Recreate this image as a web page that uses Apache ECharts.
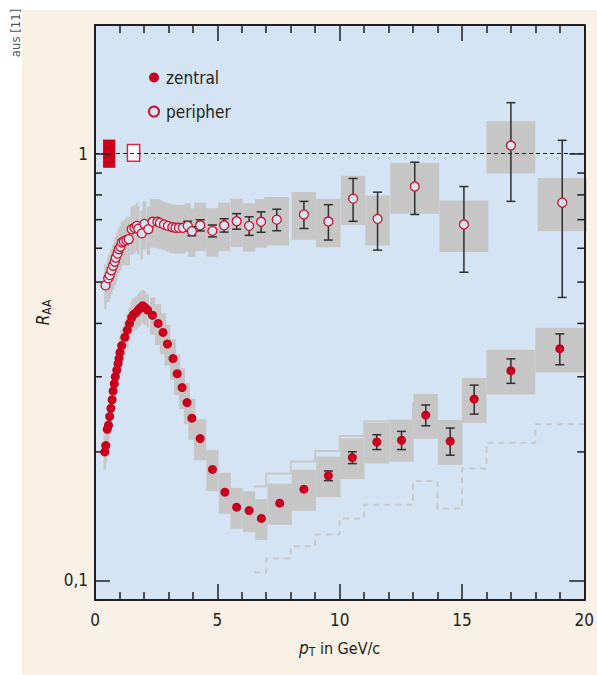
<!DOCTYPE html>
<html>
<head>
<meta charset="utf-8">
<title>RAA zentral / peripher</title>
<script src="https://cdn.jsdelivr.net/npm/echarts@6/dist/echarts.min.js"></script>
<style>
	body{
		margin:0;
		width:597px;
		height:675px;
		background:#ffffff;
		position:relative;
		overflow:hidden;
		font-family:"DejaVu Sans Condensed",sans-serif;
	}
	#panel{
		position:absolute;
		left:22px;
		top:10px;
		width:575px;
		height:665px;
		background:#f9f0e6;
	}
	#src{
		position:absolute;
		left:15px;
		top:33px;
		transform:translate(-50%,-50%) rotate(-90deg);
		white-space:nowrap;
		font-size:13px;
		color:#555555;
	}
	#chart{
		position:absolute;
		left:0;
		top:0;
		width:597px;
		height:675px;
	}
</style>
</head>
<body>
<div id="panel"></div>
<div id="src">aus [11]</div>
<div id="chart"></div>
<script type="text/javascript">
	// zentral (gefuellte Punkte)
	var ptCentral  = [0.40,0.44,0.50,0.55,0.60,0.65,0.70,0.74,0.79,0.83,0.89,0.94,0.98,1.02,1.09,1.22,1.32,1.41,1.50,1.58,1.68,1.77,1.85,1.95,2.04,2.15,2.35,2.58,2.78,2.96,3.19,3.36,3.56,3.76,3.96,4.30,4.80,5.31,5.79,6.30,6.80,7.55,8.54,9.54,10.52,11.52,12.53,13.52,14.52,15.50,17.0,19.0];
	var raaCentral = [0.200,0.207,0.226,0.231,0.242,0.253,0.265,0.278,0.289,0.300,0.311,0.322,0.331,0.342,0.355,0.371,0.386,0.400,0.413,0.420,0.424,0.430,0.435,0.440,0.436,0.430,0.418,0.400,0.381,0.358,0.331,0.305,0.283,0.261,0.240,0.215,0.182,0.161,0.1485,0.1458,0.1397,0.1517,0.1636,0.1759,0.194,0.211,0.213,0.244,0.212,0.266,0.310,0.349];
	var statCentral = [0,0,0,0,0,0,0,0,0,0,0,0,0,0,0,0,0,0,0,0,0,0,0,0,0,0,0,0,0,0,0,0,0,0,0,0,0,0,0,0,0,0,0,0.026,0.032,0.040,0.049,0.056,0.073,0.078,0.066,0.083];
	var sysCentral = [0.09,0.09,0.09,0.09,0.09,0.09,0.09,0.09,0.09,0.09,0.09,0.09,0.09,0.09,0.09,0.09,0.09,0.09,0.09,0.09,0.09,0.09,0.09,0.09,0.09,0.09,0.10,0.11,0.11,0.11,0.11,0.11,0.11,0.11,0.11,0.11,0.11,0.11,0.11,0.11,0.11,0.11,0.11,0.11,0.11,0.11,0.11,0.12,0.12,0.12,0.12,0.12];
	var binCentral = [0.1,0.1,0.1,0.1,0.1,0.1,0.1,0.1,0.1,0.1,0.1,0.1,0.1,0.1,0.1,0.1,0.1,0.1,0.1,0.1,0.1,0.1,0.1,0.1,0.1,0.1,0.2,0.25,0.25,0.25,0.25,0.25,0.25,0.25,0.3,0.5,0.5,0.5,0.5,0.5,0.5,1,1,1,1,1,1,1,1,1,2,2];

	// peripher (offene Punkte)
	var ptPeriph  = [0.43,0.54,0.60,0.67,0.74,0.81,0.85,0.92,0.97,1.04,1.10,1.18,1.28,1.38,1.50,1.61,1.71,1.77,1.91,2.02,2.18,2.35,2.55,2.65,2.82,2.98,3.16,3.29,3.43,3.59,3.79,3.96,4.30,4.80,5.28,5.79,6.30,6.79,7.43,8.54,9.54,10.55,11.55,13.07,15.08,17.0,19.1];
	var raaPeriph = [0.491,0.510,0.519,0.533,0.546,0.558,0.570,0.583,0.597,0.605,0.619,0.623,0.627,0.630,0.665,0.670,0.677,0.667,0.650,0.684,0.665,0.692,0.692,0.688,0.682,0.677,0.672,0.670,0.670,0.670,0.677,0.658,0.679,0.659,0.679,0.694,0.677,0.692,0.700,0.720,0.693,0.784,0.703,0.837,0.682,1.044,0.767];
	var statPeriph = [0,0,0,0,0,0,0,0,0,0,0,0,0,0,0,0,0,0,0,0,0,0,0,0,0.014,0.015,0.016,0.016,0.017,0.018,0.025,0.025,0.030,0.032,0.036,0.042,0.050,0.055,0.058,0.073,0.095,0.115,0.155,0.140,0.227,0.260,0.400];
	var sysPeriph = [0.12,0.12,0.12,0.12,0.12,0.12,0.12,0.12,0.12,0.12,0.12,0.12,0.13,0.13,0.13,0.13,0.13,0.13,0.13,0.13,0.13,0.13,0.13,0.13,0.13,0.13,0.13,0.13,0.13,0.13,0.13,0.13,0.13,0.13,0.13,0.13,0.13,0.13,0.13,0.128,0.13,0.132,0.134,0.137,0.138,0.14,0.143];
	var binPeriph = [0.1,0.1,0.1,0.1,0.1,0.1,0.1,0.1,0.1,0.1,0.1,0.1,0.1,0.1,0.1,0.1,0.1,0.1,0.1,0.15,0.15,0.2,0.2,0.2,0.2,0.2,0.2,0.2,0.2,0.2,0.25,0.3,0.5,0.5,0.5,0.5,0.5,0.5,1,1,1,1,1,2,2,2,2];

	// Normierungsunsicherheit bei RAA = 1 : [pT-Mitte, unten, oben]
	var normCentral = [0.58, 0.926, 1.078];
	var normPeriph  = [1.575, 0.959, 1.050];
	var normWidth   = 0.5;

	// graue Stufenlinien
	var stepSolidEdges = [6.5,7,8,9,10,11,12,13,14];
	var stepSolidVals  = [0.166,0.178,0.190,0.201,0.218,0.236,0.237,0.26];
	var stepDashEdges  = [6.5,7,8,9,10,11,13,14,15,16,18,20];
	var stepDashVals   = [0.1044,0.1126,0.1203,0.1282,0.1397,0.1504,0.1709,0.1474,0.1829,0.2102,0.2323];

	// Achsen
	var yMinorTicks = [0.2,0.3,0.4,0.5,0.6,0.7,0.8,0.9];
	var xMin = 0, xMax = 20, yMin = 0.09, yMax = 2;

	var RED = '#c8001e';
	var INK = '#231f20';
	var GREY = '#c6c6c6';
	var FONT = '"DejaVu Sans Condensed",sans-serif';

	function zip(){
		var out = [];
		var n = arguments[0].length;
		for(var i=0;i<n;i++){
			var row = [];
			for(var k=0;k<arguments.length;k++){ row.push(arguments[k][i]); }
			out.push(row);
		}
		return out;
	}
	function stepLine(edges, vals){
		var d = [];
		for(var i=0;i<vals.length;i++){
			d.push([edges[i], vals[i]]);
			d.push([edges[i+1], vals[i]]);
		}
		return d;
	}

	// Systematik-Kaesten: [pT, RAA, Binbreite, rel. Fehler]
	function renderBox(params, api){
		var x = api.value(0), y = api.value(1), w = api.value(2), r = api.value(3);
		var a = api.coord([x - w/2, y*(1+r)]);
		var b = api.coord([x + w/2, y*(1-r)]);
		return {type:'rect', shape:{x:a[0], y:a[1], width:b[0]-a[0], height:b[1]-a[1]},
			style:{fill:GREY}};
	}
	// statistische Fehlerbalken: [pT, RAA, rel. Fehler]
	function renderErr(params, api){
		var x = api.value(0), y = api.value(1), r = api.value(2);
		if(!r) return null;
		var top = api.coord([x, y*(1+r)]);
		var bot = api.coord([x, y*(1-r)]);
		var cw = 4.5;
		var st = {stroke:'#2e2e2e', lineWidth:1.5};
		return {type:'group', children:[
			{type:'line', shape:{x1:top[0], y1:top[1], x2:bot[0], y2:bot[1]}, style:st},
			{type:'line', shape:{x1:top[0]-cw, y1:top[1], x2:top[0]+cw, y2:top[1]}, style:st},
			{type:'line', shape:{x1:bot[0]-cw, y1:bot[1], x2:bot[0]+cw, y2:bot[1]}, style:st}
		]};
	}
	function renderNorm(filled){
		return function(params, api){
			var a = api.coord([api.value(0) - normWidth/2, api.value(2)]);
			var b = api.coord([api.value(0) + normWidth/2, api.value(1)]);
			return {type:'rect', shape:{x:a[0], y:a[1], width:b[0]-a[0], height:b[1]-a[1]},
				style: filled ? {fill:RED} : {fill:'#ffffff', stroke:'#d8283c', lineWidth:1.5}};
		};
	}
	function renderMinorTick(params, api){
		var v = api.value(1);
		var l = api.coord([xMin, v]);
		var r = api.coord([xMax, v]);
		var st = {stroke:INK, lineWidth:1.5};
		return {type:'group', children:[
			{type:'line', shape:{x1:l[0], y1:l[1], x2:l[0]+7, y2:l[1]}, style:st},
			{type:'line', shape:{x1:r[0], y1:r[1], x2:r[0]-7, y2:r[1]}, style:st}
		]};
	}

	function xAxisDef(pos){
		return {
			type:'value', min:xMin, max:xMax, interval:5, position:pos, z:10,
			axisLine:{show:true, onZero:false, lineStyle:{color:INK, width:2}},
			axisTick:{show:true, inside:true, length:16, lineStyle:{color:INK, width:1.5}},
			minorTick:{show:true, splitNumber:5, length:8, lineStyle:{color:INK, width:1.5}},
			splitLine:{show:false},
			axisLabel:{show:pos==='bottom', margin:11, fontSize:17, color:INK, fontFamily:FONT}
		};
	}
	function yAxisDef(pos){
		return {
			type:'log', logBase:10, min:yMin, max:yMax, position:pos, z:10,
			axisLine:{show:true, onZero:false, lineStyle:{color:INK, width:2}},
			axisTick:{show:true, inside:true, length:15, lineStyle:{color:INK, width:1.5}},
			splitLine:{show:false},
			axisLabel:{show:pos==='left', margin:7, fontSize:17, color:INK, fontFamily:FONT,
				formatter:function(v){
					if(Math.abs(v-1)<1e-6) return '1';
					if(Math.abs(v-0.1)<1e-6) return '0,1';
					return '';
				}}
		};
	}

	var xBottom = xAxisDef('bottom');
	xBottom.name = '{i|p}{s|T}{n| in GeV/c}';
	xBottom.nameLocation = 'middle';
	xBottom.nameGap = 38;
	xBottom.nameTextStyle = {color:INK, fontFamily:FONT, rich:{
		i:{fontSize:17, fontStyle:'italic', fontFamily:FONT, color:INK, lineHeight:20},
		s:{fontSize:12, fontFamily:FONT, color:INK, verticalAlign:'bottom', padding:[6,0,0,0]},
		n:{fontSize:16, fontFamily:FONT, color:INK, lineHeight:20}
	}};
	var yLeft = yAxisDef('left');
	yLeft.name = '{i|R}{s|AA}';
	yLeft.nameLocation = 'middle';
	yLeft.nameGap = 36;
	yLeft.nameRotate = 90;
	yLeft.nameTextStyle = {color:INK, fontFamily:FONT, rich:{
		i:{fontSize:17, fontStyle:'italic', fontFamily:FONT, color:INK, lineHeight:20},
		s:{fontSize:12, fontFamily:FONT, color:INK, verticalAlign:'bottom', padding:[6,0,0,0]}
	}};

	var option = {
		animation:false,
		backgroundColor:'transparent',
		grid:{left:95, right:6, top:25, bottom:75, show:true, backgroundColor:'#d4e4f4', borderWidth:0},
		legend:{
			orient:'vertical', left:143, top:64, itemGap:17, itemWidth:14, itemHeight:10,
			data:['zentral','peripher'],
			textStyle:{fontSize:17, color:INK, fontFamily:FONT}
		},
		xAxis:[xBottom, xAxisDef('top')],
		yAxis:[yLeft, yAxisDef('right')],
		series:[
			{type:'line', data:stepLine(stepDashEdges, stepDashVals), showSymbol:false, symbol:'none', z:1,
				lineStyle:{color:'#c8c8c8', width:2, type:[6,5]}, silent:true},
			{type:'line', data:stepLine(stepSolidEdges, stepSolidVals), showSymbol:false, symbol:'none', z:1,
				lineStyle:{color:'#c8c8c8', width:2}, silent:true},
			{type:'custom', renderItem:renderBox, z:2, silent:true,
				data:zip(ptPeriph, raaPeriph, binPeriph, sysPeriph), encode:{x:0, y:1}},
			{type:'custom', renderItem:renderBox, z:2, silent:true,
				data:zip(ptCentral, raaCentral, binCentral, sysCentral), encode:{x:0, y:1},
				markLine:{silent:true, symbol:'none', data:[{yAxis:1}], label:{show:false},
					lineStyle:{type:[4,3], color:INK, width:1}}},
			{type:'custom', renderItem:renderNorm(true), z:4, silent:true,
				data:[normCentral], encode:{x:0, y:[1,2]}},
			{type:'custom', renderItem:renderNorm(false), z:4, silent:true,
				data:[normPeriph], encode:{x:0, y:[1,2]}},
			{type:'custom', renderItem:renderMinorTick, z:5, silent:true,
				data:yMinorTicks.map(function(v){ return [xMin, v]; }), encode:{x:0, y:1}},
			{type:'custom', renderItem:renderErr, z:5, silent:true,
				data:zip(ptPeriph, raaPeriph, statPeriph), encode:{x:0, y:1}},
			{type:'custom', renderItem:renderErr, z:5, silent:true,
				data:zip(ptCentral, raaCentral, statCentral), encode:{x:0, y:1}},
			{name:'peripher', type:'scatter', symbol:'circle', symbolSize:9, z:6,
				data:zip(ptPeriph, raaPeriph),
				itemStyle:{color:'#d8e6f4', borderColor:'#d0112b', borderWidth:1.3, opacity:1}},
			{name:'zentral', type:'scatter', symbol:'circle', symbolSize:9, z:6,
				data:zip(ptCentral, raaCentral),
				itemStyle:{color:RED, opacity:1}}
		]
	};

	var myChart = echarts.init(document.getElementById('chart'), null, {renderer:'svg'});
	myChart.setOption(option);
</script>
</body>
</html>
